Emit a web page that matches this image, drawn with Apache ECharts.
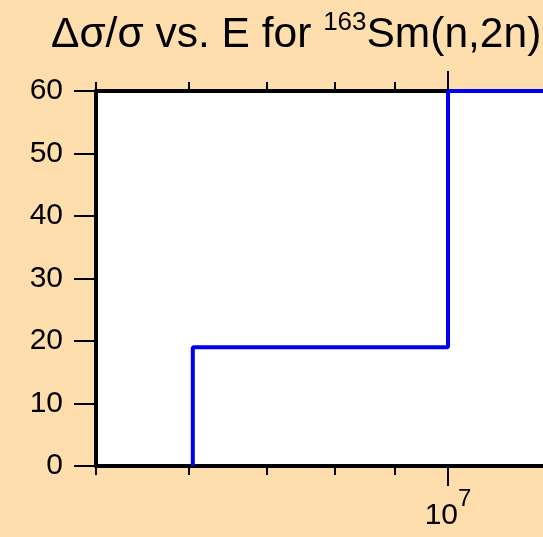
<!DOCTYPE html>
<html><head><meta charset="utf-8">
<script src="https://cdn.jsdelivr.net/npm/echarts@6/dist/echarts.min.js"></script>
<style>html,body{margin:0;padding:0;background:#FFDEAD}#c{width:543px;height:537px}</style>
</head><body><div id="c"></div>
<script>
// ---- data ----
const titleMain = 'Δσ/σ vs. E for ';
const titleIso = '163';
const titleReaction = 'Sm(n,2n)';
const binEdges = [6.05e6, 1.0e7, 2.0e7];   // energy (eV) bin edges
const binValues = [19, 60];                 // relative uncertainty (%)
const xRange = [5e6, 2e7];
const xMinorTickE = [5e6, 6e6, 7e6, 8e6, 9e6, 2e7];
const xMajorTickE = [1e7];
const yTicks = [0, 10, 20, 30, 40, 50, 60];

// ---- build ----
const L = Math.log10;
const pts = [];
for (let i = 0; i < binValues.length; i++) {
  pts.push([L(binEdges[i]), i === 0 ? 0 : binValues[i - 1]]);
  pts.push([L(binEdges[i]), binValues[i]]);
}
pts.push([L(binEdges[binEdges.length - 1]), binValues[binValues.length - 1]]);

const FONT = 'Liberation Sans';
const minorLogs = xMinorTickE.map(L);
const majorLogs = xMajorTickE.map(L);
function xAx(pos, ticks, len, line, label) {
  return {
    type: 'value', position: pos, min: L(xRange[0]), max: L(xRange[1]),
    axisLine: { show: line, onZero: false, lineStyle: { color: '#000', width: 4 } },
    axisTick: { show: true, inside: false, customValues: ticks, length: len, lineStyle: { color: '#000', width: 2 } },
    axisLabel: label ? label : { show: false },
    splitLine: { show: false }
  };
}
const chart = echarts.init(document.getElementById('c'), null, { renderer: 'canvas' });
chart.setOption({
  backgroundColor: '#FFDEAD',
  animation: false,
  title: {
    left: 51, top: 10, padding: 0,
    text: '{a|' + titleMain + '}{s|' + titleIso + '}{a|' + titleReaction + '}',
    textStyle: {
      fontWeight: 'normal',
      rich: {
        a: { fontFamily: FONT, fontSize: 42.5, fontWeight: 'normal', lineHeight: 47, color: '#000', verticalAlign: 'bottom' },
        s: { fontFamily: FONT, fontSize: 26, fontWeight: 'normal', lineHeight: 15, color: '#000', verticalAlign: 'top' }
      }
    }
  },
  grid: { left: 96, top: 91, width: 704, height: 375, outerBoundsMode: 'none', show: true, backgroundColor: '#fff', borderWidth: 0, containLabel: false },
  xAxis: [
    xAx('bottom', minorLogs, 9, true, null),
    xAx('bottom', majorLogs, 20, false, {
      show: true, customValues: majorLogs, margin: 21,
      formatter: () => '{b|10}{s|7}',
      rich: {
        b: { fontFamily: FONT, fontSize: 30, lineHeight: 44, color: '#000', verticalAlign: 'bottom' },
        s: { fontFamily: FONT, fontSize: 24, lineHeight: 12, color: '#000', verticalAlign: 'top' }
      }
    }),
    xAx('top', minorLogs, 9, true, null),
    xAx('top', majorLogs, 20, false, null)
  ],
  yAxis: {
    type: 'value', min: 0, max: 60, interval: 10,
    axisLine: { show: true, lineStyle: { color: '#000', width: 4 } },
    axisTick: { show: true, inside: false, length: 22, lineStyle: { color: '#000', width: 2 } },
    axisLabel: { show: true, color: '#000', margin: 33, fontFamily: FONT, fontSize: 30 },
    splitLine: { show: false }
  },
  series: [{
    type: 'line', xAxisIndex: 0, data: pts, symbol: 'none', clip: false,
    lineStyle: { color: '#0000ee', width: 4 }, z: 5
  }]
});
</script></body></html>
